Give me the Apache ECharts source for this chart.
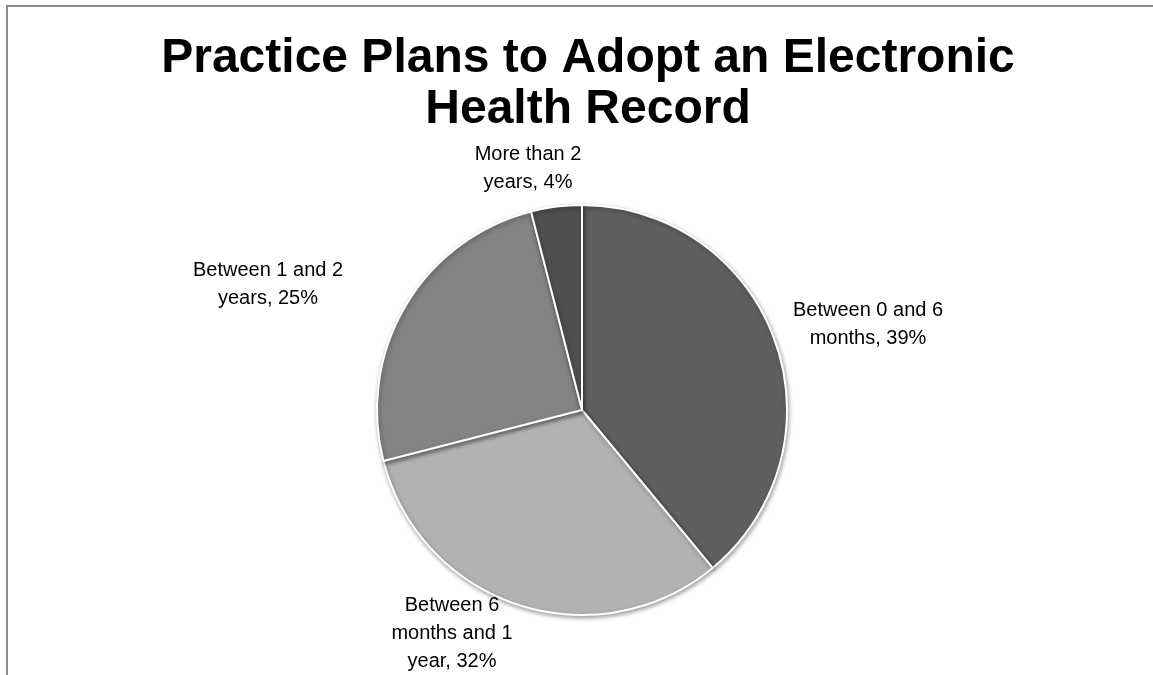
<!DOCTYPE html>
<html>
<head>
<meta charset="utf-8">
<style>
  html, body { margin: 0; padding: 0; background: #ffffff; }
  #chart { width: 1153px; height: 675px; }
</style>
<script src="https://cdn.jsdelivr.net/npm/echarts@6/dist/echarts.min.js"></script>
</head>
<body>
<div id="chart"></div>
<script>
// Survey answers: when the practice plans to adopt an EHR
const categories = [
  'Between 0 and 6 months',
  'Between 6 months and 1 year',
  'Between 1 and 2 years',
  'More than 2 years'
];
const shares = [39, 32, 25, 4];
// Label text split the way it wraps on the chart
const labelLines = [
  ['Between 0 and 6', 'months, 39%'],
  ['Between 6', 'months and 1', 'year, 32%'],
  ['Between 1 and 2', 'years, 25%'],
  ['More than 2', 'years, 4%']
];
const sliceColors = ['#5f5f5f', '#b2b2b2', '#838383', '#4f4f4f'];
// Label anchor points (centre of each label block)
const labelAnchors = [[868, 324], [452, 633], [268, 284], [528, 168]];

const chart = echarts.init(document.getElementById('chart'), null, { renderer: 'canvas' });

chart.setOption({
  backgroundColor: '#ffffff',
  animation: false,
  title: {
    text: 'Practice Plans to Adopt an Electronic\nHealth Record',
    left: 583,
    top: 28,
    textAlign: 'center',
    textStyle: {
      fontFamily: 'Liberation Sans, Arial, sans-serif',
      fontSize: 48,
      fontWeight: 'bold',
      color: '#000000',
      lineHeight: 51
    }
  },
  graphic: [{
    type: 'rect',
    shape: { x: 7, y: 6, width: 1300, height: 800 },
    style: { fill: 'none', stroke: '#898989', lineWidth: 2 },
    silent: true,
    z: -1
  }],
  series: [{
    type: 'pie',
    center: [582, 410],
    radius: 205,
    startAngle: 90,
    clockwise: true,
    data: categories.map((name, i) => ({
      name: name,
      value: shares[i],
      itemStyle: { color: sliceColors[i] }
    })),
    itemStyle: {
      borderColor: '#ffffff',
      borderWidth: 2,
      shadowBlur: 4,
      shadowColor: 'rgba(0,0,0,0.35)',
      shadowOffsetX: 1,
      shadowOffsetY: 2
    },
    label: {
      show: true,
      position: 'outside',
      formatter: (p) => labelLines[p.dataIndex].join('\n'),
      fontFamily: 'Liberation Sans, Arial, sans-serif',
      fontSize: 20,
      lineHeight: 28,
      color: '#000000',
      align: 'center'
    },
    labelLine: { show: false },
    labelLayout: (p) => ({
      x: labelAnchors[p.dataIndex][0],
      y: labelAnchors[p.dataIndex][1],
      align: 'center',
      verticalAlign: 'middle'
    }),
    emphasis: { disabled: true }
  }]
});
</script>
</body>
</html>
